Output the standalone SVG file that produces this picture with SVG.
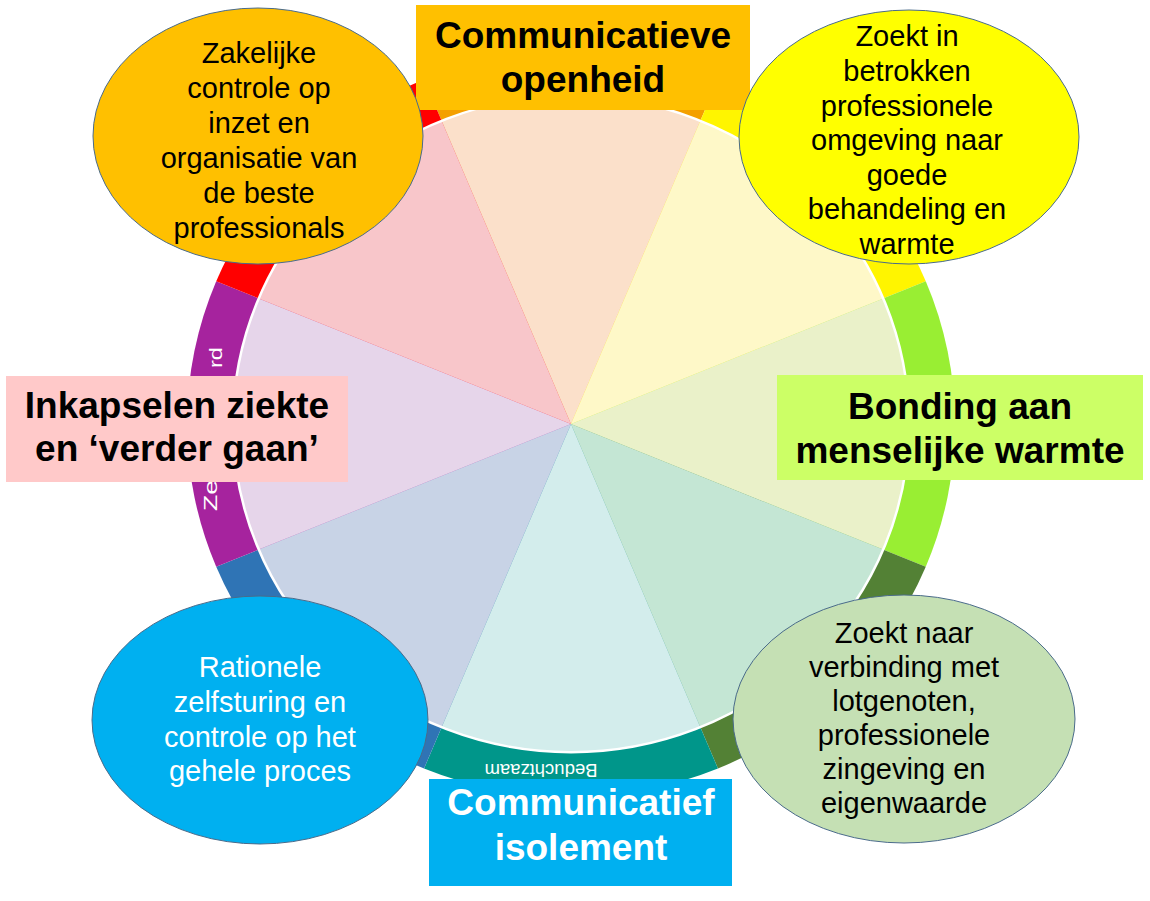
<svg xmlns="http://www.w3.org/2000/svg" width="1150" height="901" viewBox="0 0 1150 901">
<style>
text{font-family:"Liberation Sans",Arial,Helvetica,sans-serif}
.lbl{font-size:37px;font-weight:bold;text-anchor:middle}
.bub{font-size:29px;text-anchor:middle}
.ring{font-size:19px;fill:#ffffff}
.ell{stroke:#4a6b8a;stroke-width:1}
</style>
<rect width="1150" height="901" fill="#ffffff"/>
<g id="wheel" transform="translate(571,424) scale(1,0.971)">
  <g id="ring">
    <path d="M0,0 L-146.95,-354.77 A384,384 0 0 1 146.95,-354.77 Z" fill="#F4A000"/>
    <path d="M0,0 L146.95,-354.77 A384,384 0 0 1 354.77,-146.95 Z" fill="#FFF500"/>
    <path d="M0,0 L354.77,-146.95 A384,384 0 0 1 354.77,146.95 Z" fill="#99EE33"/>
    <path d="M0,0 L354.77,146.95 A384,384 0 0 1 146.95,354.77 Z" fill="#538135"/>
    <path d="M0,0 L146.95,354.77 A384,384 0 0 1 -146.95,354.77 Z" fill="#00968A"/>
    <path d="M0,0 L-146.95,354.77 A384,384 0 0 1 -354.77,146.95 Z" fill="#2F74B5"/>
    <path d="M0,0 L-354.77,146.95 A384,384 0 0 1 -354.77,-146.95 Z" fill="#A6239E"/>
    <path d="M0,0 L-354.77,-146.95 A384,384 0 0 1 -146.95,-354.77 Z" fill="#FF0000"/>
  </g>
  <g id="pie">
    <path d="M0,0 L-129.35,-312.27 A338,338 0 0 1 129.35,-312.27 Z" fill="#FBE0CA"/>
    <path d="M0,0 L129.35,-312.27 A338,338 0 0 1 312.27,-129.35 Z" fill="#FEF8C8"/>
    <path d="M0,0 L312.27,-129.35 A338,338 0 0 1 312.27,129.35 Z" fill="#EAF1C9"/>
    <path d="M0,0 L312.27,129.35 A338,338 0 0 1 129.35,312.27 Z" fill="#C4E6D4"/>
    <path d="M0,0 L129.35,312.27 A338,338 0 0 1 -129.35,312.27 Z" fill="#D3EDEC"/>
    <path d="M0,0 L-129.35,312.27 A338,338 0 0 1 -312.27,129.35 Z" fill="#C8D3E6"/>
    <path d="M0,0 L-312.27,129.35 A338,338 0 0 1 -312.27,-129.35 Z" fill="#E6D5EA"/>
    <path d="M0,0 L-312.27,-129.35 A338,338 0 0 1 -129.35,-312.27 Z" fill="#F8C6CA"/>
    <circle r="338" fill="none" stroke="#ffffff" stroke-width="2.5"/>
  </g>
</g>
<g id="ring-text">
  <text class="ring" transform="translate(217,511) rotate(-90)" textLength="31" lengthAdjust="spacingAndGlyphs">Ze</text>
  <text class="ring" transform="translate(222,347) rotate(-90)" text-anchor="end" textLength="21" lengthAdjust="spacingAndGlyphs">rd</text>
  <text class="ring" transform="translate(541,764) rotate(180)" text-anchor="middle" textLength="113" lengthAdjust="spacingAndGlyphs">Beduchtzaam</text>
</g>
<g id="node-communicatieve-openheid">
  <rect x="416" y="5" width="334" height="105" fill="#FFC000"/>
  <text class="lbl" x="583" y="48">Communicatieve</text>
  <text class="lbl" x="583" y="92">openheid</text>
</g>
<g id="node-bonding">
  <rect x="777" y="375" width="366" height="105" fill="#CCFF66"/>
  <text class="lbl" x="960" y="419">Bonding aan</text>
  <text class="lbl" x="960" y="463">menselijke warmte</text>
</g>
<g id="node-inkapselen">
  <rect x="6" y="376" width="342" height="106" fill="#FFC9C9"/>
  <text class="lbl" x="177" y="418">Inkapselen ziekte</text>
  <text class="lbl" x="177" y="461">en ‘verder gaan’</text>
</g>
<g id="node-communicatief-isolement">
  <rect x="429" y="779" width="303" height="107" fill="#00B0F0"/>
  <text class="lbl" x="581" y="815" fill="#ffffff">Communicatief</text>
  <text class="lbl" x="581" y="860" fill="#ffffff">isolement</text>
</g>
<g id="node-zakelijke">
  <ellipse class="ell" cx="258" cy="136" rx="165" ry="128" fill="#FFC000"/>
  <text class="bub" x="259" y="63">Zakelijke</text>
  <text class="bub" x="259" y="98">controle op</text>
  <text class="bub" x="259" y="133">inzet en</text>
  <text class="bub" x="259" y="168">organisatie van</text>
  <text class="bub" x="259" y="203">de beste</text>
  <text class="bub" x="259" y="238">professionals</text>
</g>
<g id="node-zoekt-in">
  <ellipse class="ell" cx="909" cy="137" rx="170" ry="127" fill="#FFFF00"/>
  <text class="bub" x="907" y="46">Zoekt in</text>
  <text class="bub" x="907" y="81">betrokken</text>
  <text class="bub" x="907" y="116">professionele</text>
  <text class="bub" x="907" y="150">omgeving naar</text>
  <text class="bub" x="907" y="185">goede</text>
  <text class="bub" x="907" y="219">behandeling en</text>
  <text class="bub" x="907" y="254">warmte</text>
</g>
<g id="node-rationele">
  <ellipse class="ell" cx="260" cy="720" rx="168" ry="124" fill="#00B0F0"/>
  <text class="bub" x="260" y="677" fill="#ffffff">Rationele</text>
  <text class="bub" x="260" y="712" fill="#ffffff">zelfsturing en</text>
  <text class="bub" x="260" y="747" fill="#ffffff">controle op het</text>
  <text class="bub" x="260" y="781" fill="#ffffff">gehele proces</text>
</g>
<g id="node-zoekt-naar">
  <ellipse class="ell" cx="904" cy="719" rx="171" ry="124" fill="#C5E0B4"/>
  <text class="bub" x="904" y="643">Zoekt naar</text>
  <text class="bub" x="904" y="677">verbinding met</text>
  <text class="bub" x="904" y="711">lotgenoten,</text>
  <text class="bub" x="904" y="745">professionele</text>
  <text class="bub" x="904" y="779">zingeving en</text>
  <text class="bub" x="904" y="813">eigenwaarde</text>
</g>
<g id="connectors"/>
</svg>
